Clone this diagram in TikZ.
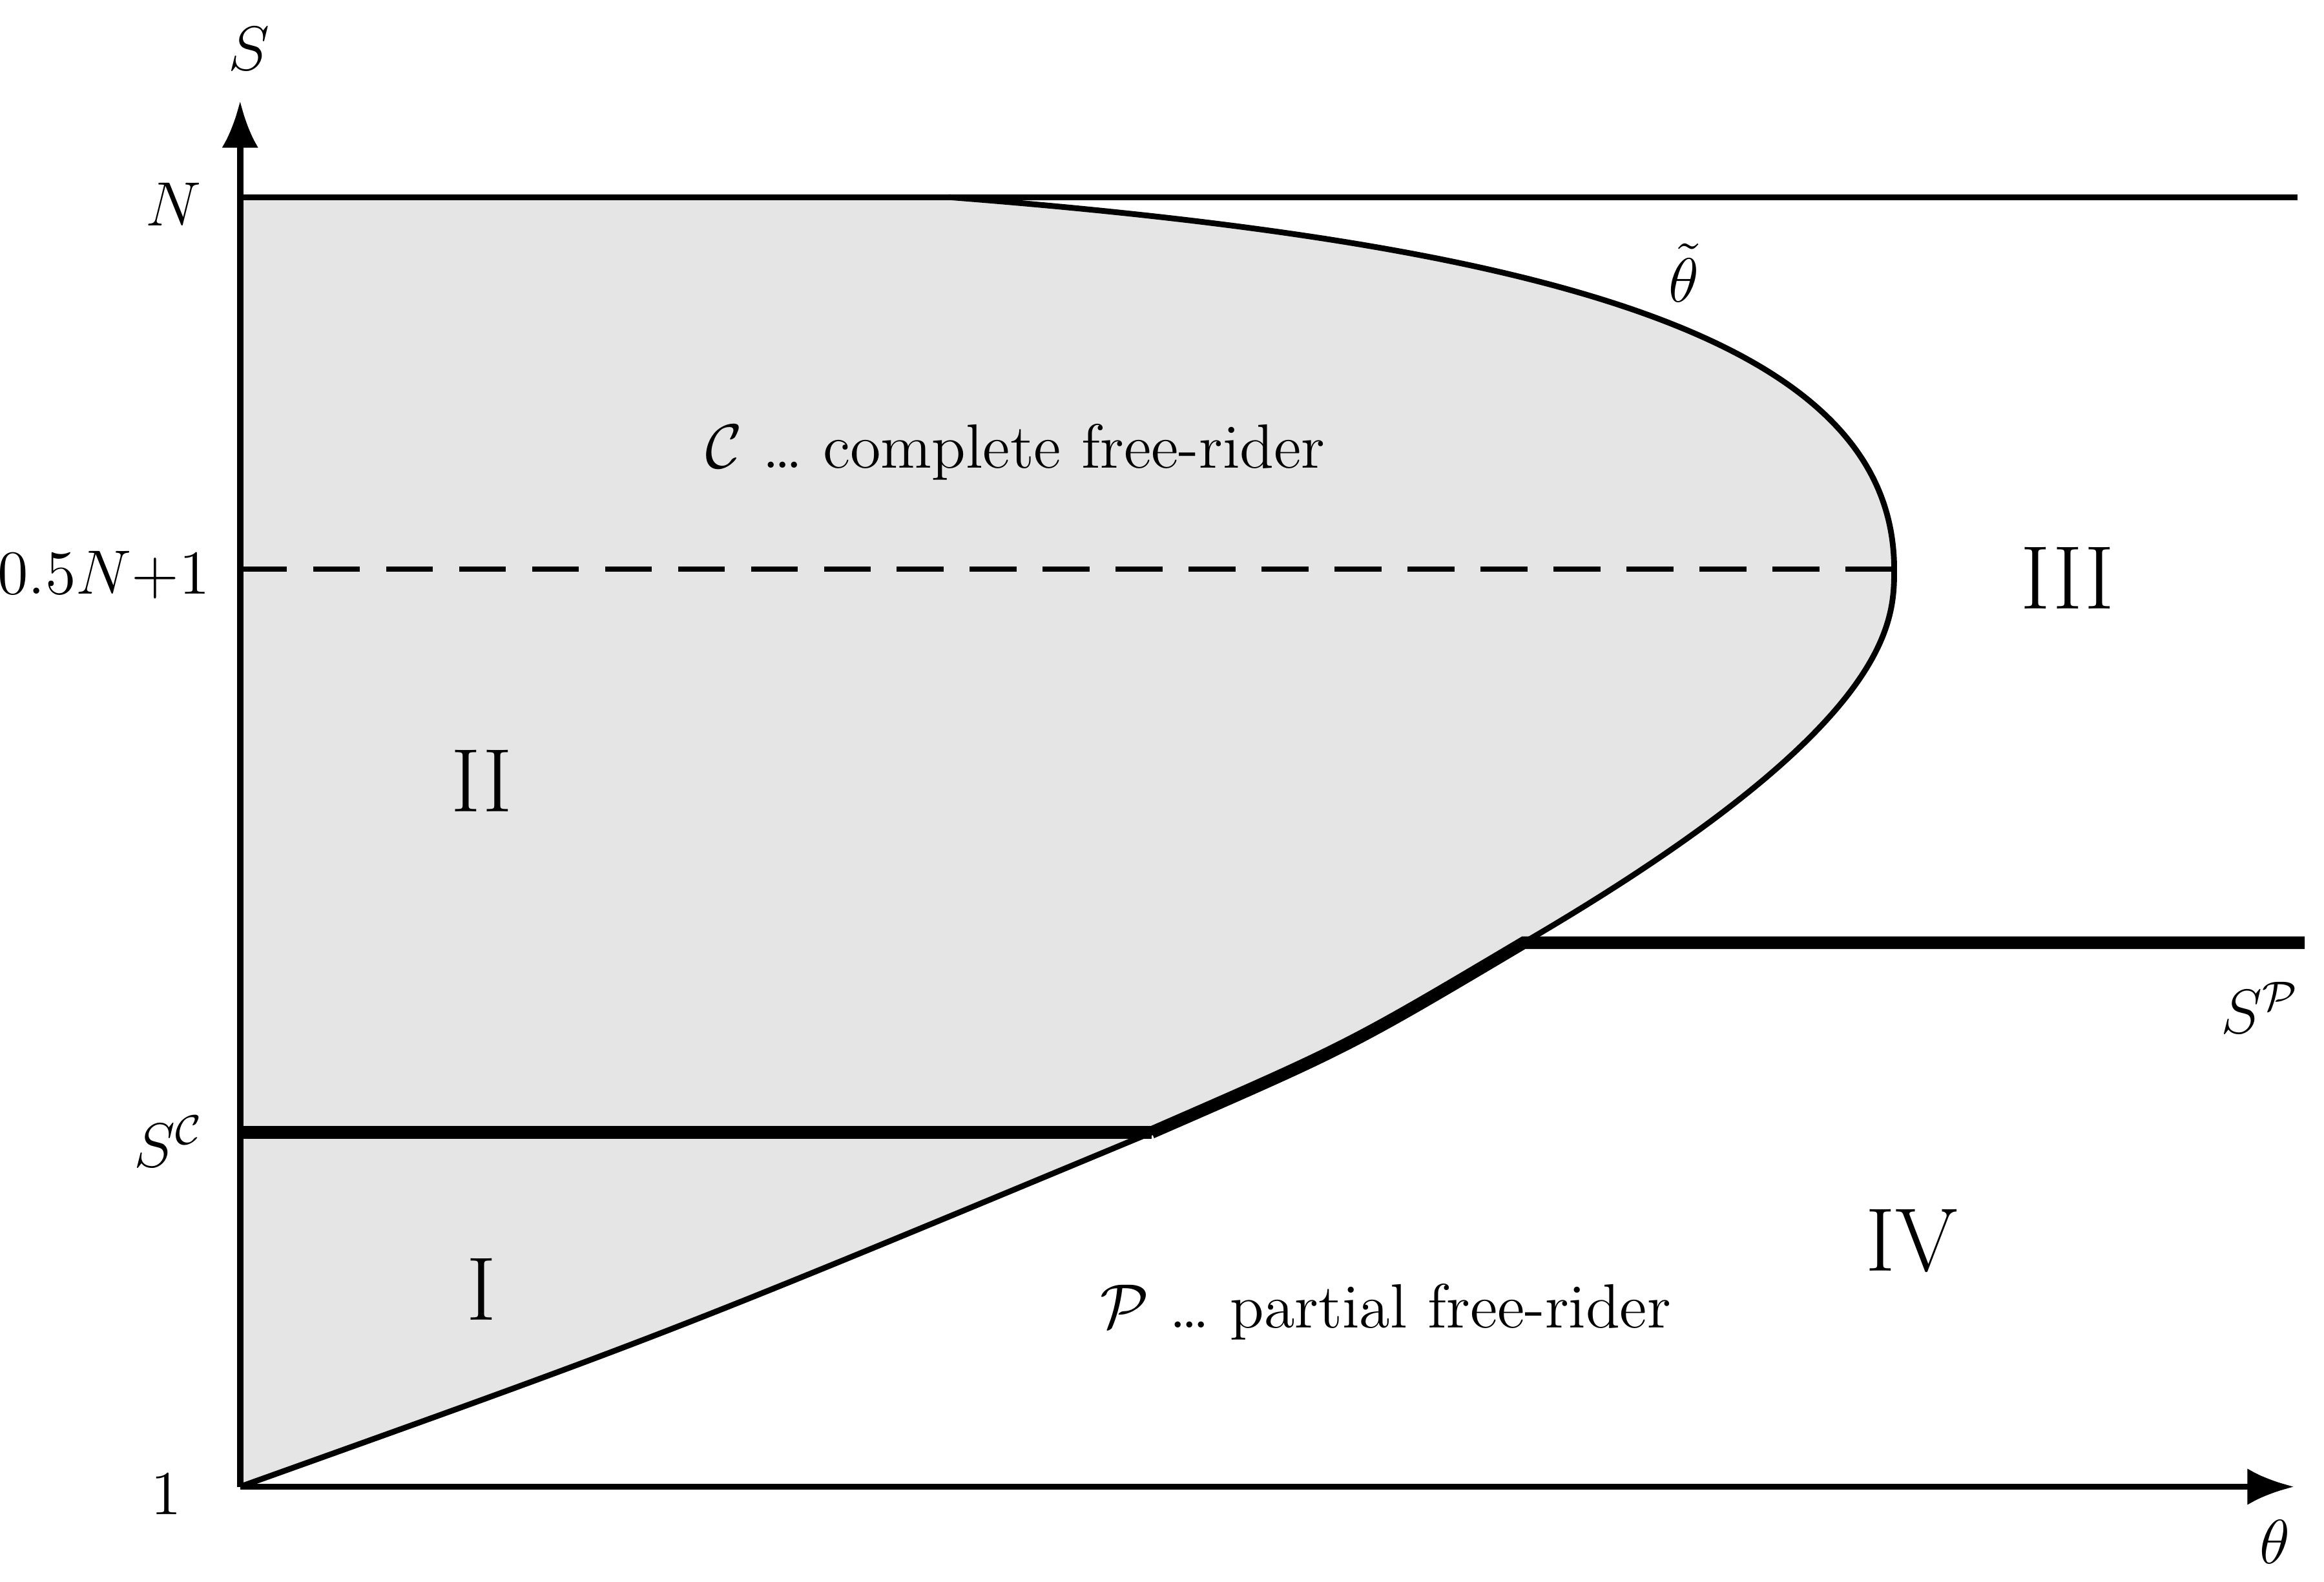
\documentclass[tikz,border=0pt]{standalone}
\usepackage{amsmath}
\usetikzlibrary{arrows.meta}
\begin{document}
\begin{tikzpicture}[x=0.01cm,y=-0.01cm,
  lab/.style={font=\large},
  rom/.style={font=\LARGE},
  ax/.style={line width=1.2pt,-{Latex[length=9pt,width=7pt]}}]
\useasboundingbox (0,0) rectangle (1568,1067);
\def\lowcurve{(162,1003) .. controls (450,900) .. (777,764) .. controls (910,706) .. (1028,636) .. controls (1278,490) and (1278,420) .. (1278,384) .. controls (1278,230) and (1050,165) .. (640,133)}
\fill[gray!20] \lowcurve -- (162,133) -- cycle;
\draw[line width=1.1pt] \lowcurve;
\draw[line width=1.1pt] (162,133) -- (1550,133);
\draw[line width=1pt,dash pattern=on 9pt off 5pt] (162,384) -- (1278,384);
\draw[line width=2.4pt] (162,764) -- (777,764);
\draw[line width=2.4pt] (777,764) .. controls (910,706) .. (1028,636) -- (1555,636);
\coordinate (o) at (162,1003);
\coordinate (yt) at (162,68);
\coordinate (xt) at (1548,1003);
\draw[ax] (o) -- (yt);
\draw[ax] (o) -- (xt);
\node[lab] (S) at (168,33) {$S$};
\node[lab] (th) at (1535,1040) {$\theta$};
\node[lab,anchor=east] (N) at (148,138) {$N$};
\node[lab,anchor=east] (h) at (154,388) {$0.5N{+}1$};
\node[lab,anchor=east] (sc) at (150,770) {$S^{\mathcal{C}}$};
\node[lab,anchor=east] (one) at (135,1008) {$1$};
\node[lab] (tt) at (1136,184) {$\tilde{\theta}$};
\node[lab] (sp) at (1525,680) {$S^{\mathcal{P}}$};
\node[lab] (c) at (685,305) {$\mathcal{C}$ \dots\ complete free-rider};
\node[lab] (p) at (935,885) {$\mathcal{P}$ \dots\ partial free-rider};
\node[rom] (I) at (325,870) {I};
\node[rom] (II) at (325,527) {II};
\node[rom] (III) at (1395,390) {III};
\node[rom] (IV) at (1290,837) {IV};
\end{tikzpicture}
\end{document}
